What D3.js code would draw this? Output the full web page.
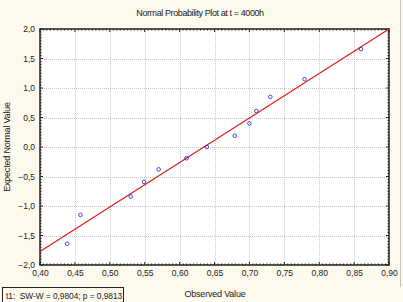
<!DOCTYPE html>
<html>
<head>
<meta charset="utf-8">
<script src="https://cdn.jsdelivr.net/npm/d3@7"></script>
<style>
  body { margin: 0; background: #fdf9ec; }
  svg { display: block; font-family: "Liberation Sans", Arial, sans-serif; }
  .grid line { stroke: #c8c8c8; stroke-dasharray: 1,1; }
  .axis text { font-size: 8.5px; fill: #222; }
  .legend { white-space: pre; }
</style>
</head>
<body>
<div id="chart"></div>
<script>
const observed = [0.439, 0.458, 0.530, 0.549, 0.570, 0.610, 0.639, 0.679, 0.700, 0.710, 0.730, 0.779, 0.860];
const expected = [-1.64, -1.15, -0.84, -0.59, -0.38, -0.19, 0.00, 0.19, 0.40, 0.61, 0.85, 1.15, 1.66];
// fitted line end points
const fitX = [0.40, 0.90];
const fitY = [-1.77, 2.00];
const xTicks = [0.40, 0.45, 0.50, 0.55, 0.60, 0.65, 0.70, 0.75, 0.80, 0.85, 0.90];
const yTicks = [-2.0, -1.5, -1.0, -0.5, 0.0, 0.5, 1.0, 1.5, 2.0];
const title = "Normal Probability Plot at t = 4000h";
const legendText = "t1:  SW-W = 0,9804; p = 0,9813";

const W = 403, H = 302;
const margin = {top: 29, right: 14, bottom: 37, left: 40};
const w = W - margin.left - margin.right;
const h = H - margin.top - margin.bottom;

const fmt = (d) => d3.format(".2f")(d).replace(".", ",");
const fmtY = (d) => d3.format(".1f")(d).replace(".", ",");

let svg = d3.select("#chart").append("svg").attr("width", W).attr("height", H);

// window frame on the right
svg.append("line").attr("x1", 400.5).attr("x2", 400.5).attr("y1", 0).attr("y2", 287)
    .attr("stroke", "#c0c0c0");

svg.append("text").attr("x", 200).attr("y", 16).attr("text-anchor", "middle")
    .attr("font-size", 9).attr("letter-spacing", -0.4).attr("fill", "#222").text(title);

let g = svg.append("g").attr("transform", "translate(" + margin.left + "," + margin.top + ")");

let x = d3.scaleLinear().domain([0.4, 0.9]).range([0, w]);
let y = d3.scaleLinear().domain([-2, 2]).range([h, 0]);

g.append("rect").attr("width", w).attr("height", h).attr("fill", "#fff");

// grid
let grid = g.append("g").attr("class", "grid");
grid.selectAll(".gx").data(xTicks.slice(1, -1)).enter().append("line")
    .attr("x1", (d) => Math.round(x(d)) + 0.5).attr("x2", (d) => Math.round(x(d)) + 0.5)
    .attr("y1", 0).attr("y2", h);
grid.selectAll(".gy").data(yTicks.slice(1, -1)).enter().append("line")
    .attr("y1", (d) => Math.round(y(d)) + 0.5).attr("y2", (d) => Math.round(y(d)) + 0.5)
    .attr("x1", 0).attr("x2", w);

// minor ticks on all four sides (inside the frame)
const minorX = d3.range(0, 101).map((i) => 0.4 + i * 0.005);
const minorY = d3.range(0, 81).map((i) => -2 + i * 0.05);
let ticks = g.append("g").attr("stroke", "#222").attr("stroke-width", 1);
minorX.forEach((v, i) => {
    const len = i % 10 === 0 ? 3 : 1.5;
    ticks.append("line").attr("x1", x(v)).attr("x2", x(v)).attr("y1", h).attr("y2", h - len);
    ticks.append("line").attr("x1", x(v)).attr("x2", x(v)).attr("y1", 0).attr("y2", len);
});
minorY.forEach((v, i) => {
    const len = i % 10 === 0 ? 3 : 1.5;
    ticks.append("line").attr("y1", y(v)).attr("y2", y(v)).attr("x1", 0).attr("x2", len);
    ticks.append("line").attr("y1", y(v)).attr("y2", y(v)).attr("x1", w).attr("x2", w - len);
});

// axes (labels only)
let xAxis = d3.axisBottom(x).tickValues(xTicks).tickFormat(fmt).tickSize(0).tickPadding(5);
let yAxis = d3.axisLeft(y).tickValues(yTicks).tickFormat(fmtY).tickSize(0).tickPadding(5);
let gx = g.append("g").attr("class", "axis").attr("transform", "translate(0," + h + ")").call(xAxis);
let gy = g.append("g").attr("class", "axis").call(yAxis);
gx.select(".domain").remove();
gy.select(".domain").remove();

// frame
g.append("rect").attr("width", w).attr("height", h).attr("fill", "none")
    .attr("stroke", "#222").attr("stroke-width", 1.5);

// fitted line
g.append("line").attr("x1", x(fitX[0])).attr("y1", y(fitY[0]))
    .attr("x2", x(fitX[1])).attr("y2", y(fitY[1]))
    .attr("stroke", "#e02020").attr("stroke-width", 1.3);

// points
g.selectAll(".pt").data(observed).enter().append("circle")
    .attr("cx", (d) => x(d)).attr("cy", (d, i) => y(expected[i]))
    .attr("r", 1.8).attr("fill", "none").attr("stroke", "#3030e0").attr("stroke-width", 0.9);

// axis titles
svg.append("text").attr("x", 215).attr("y", 297).attr("text-anchor", "middle")
    .attr("font-size", 9).attr("letter-spacing", -0.2).attr("fill", "#222").text("Observed Value");
svg.append("text").attr("transform", "translate(10," + (margin.top + h / 2) + ") rotate(-90)")
    .attr("text-anchor", "middle").attr("font-size", 9).attr("letter-spacing", -0.2)
    .attr("fill", "#222").text("Expected Normal Value");

// legend box
svg.append("rect").attr("x", 2.5).attr("y", 287.5).attr("width", 121).attr("height", 16)
    .attr("fill", "#fdf9ec").attr("stroke", "#222");
svg.append("text").attr("class", "legend").attr("x", 6).attr("y", 298.5).attr("font-size", 8.4)
    .attr("letter-spacing", -0.05).attr("fill", "#222").text(legendText);
</script>
</body>
</html>
